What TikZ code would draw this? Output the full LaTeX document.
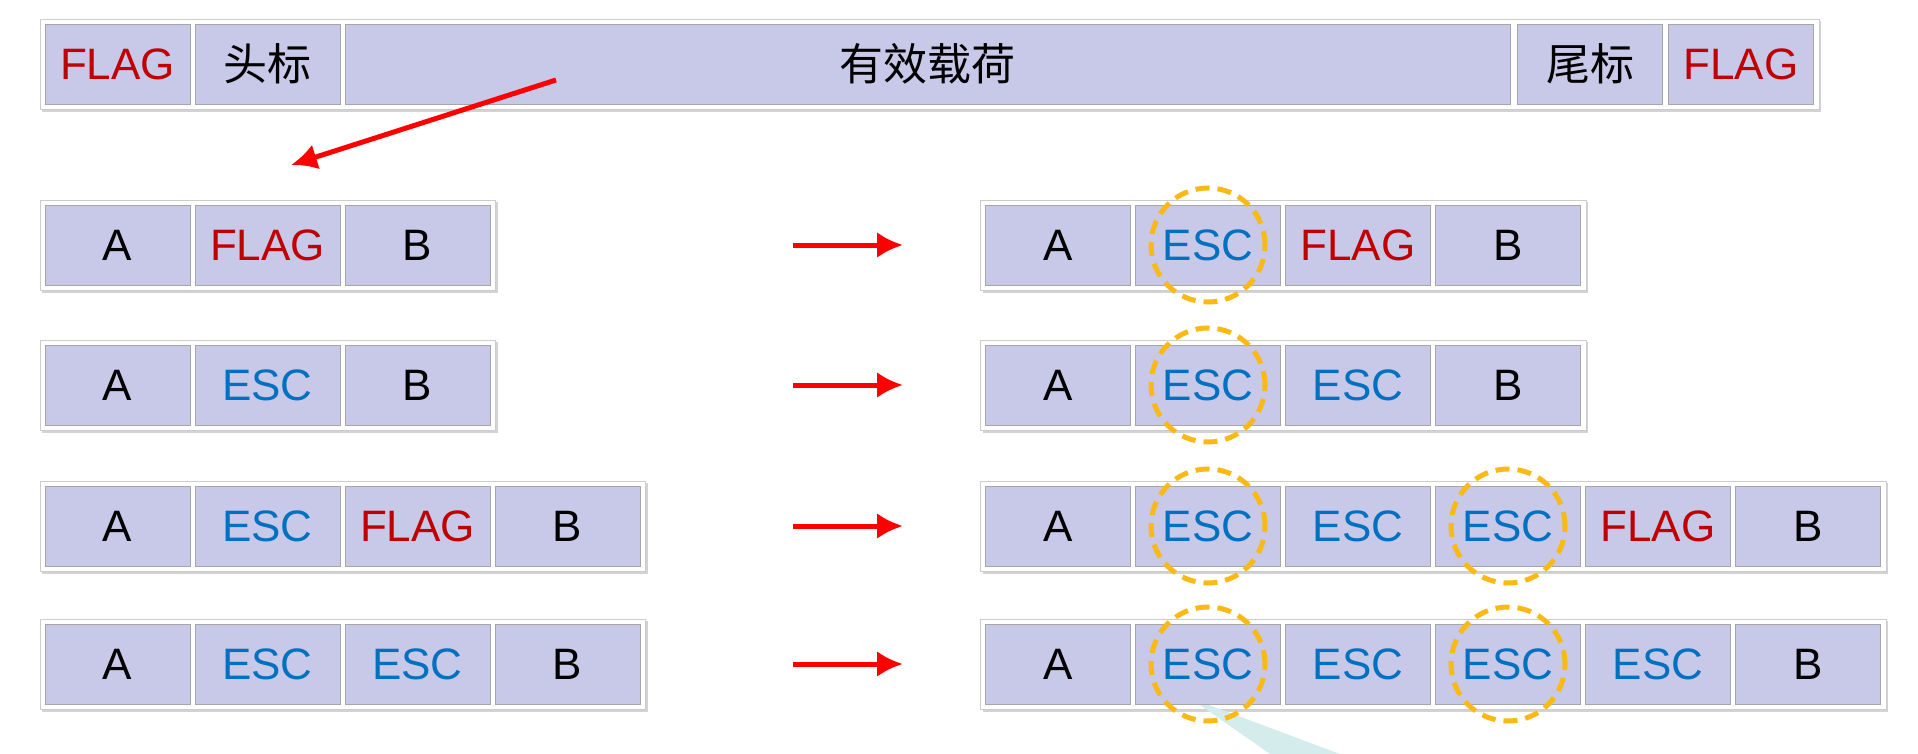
\documentclass[tikz,border=0pt]{standalone}
\usepackage{fontspec}
\setmainfont{Liberation Sans}
\newfontfamily\cjk{Noto Sans CJK SC}
\usetikzlibrary{fit,backgrounds,shadows,arrows.meta}
\definecolor{cellfill}{RGB}{200,200,232}
\definecolor{flagred}{RGB}{192,0,0}
\definecolor{escblue}{RGB}{0,112,192}
\definecolor{ringgold}{RGB}{250,185,20}
\definecolor{tailfill}{RGB}{212,236,236}
\newcommand{\flagtxt}{\textcolor{flagred}{FLAG}}
\newcommand{\esctxt}{\textcolor{escblue}{ESC}}

\begin{document}
\begin{tikzpicture}[
  x=1pt, y=-1pt,
  cell/.style={draw=gray!70, fill=cellfill, minimum width=145pt, minimum height=80pt,
    inner sep=0pt, font=\fontsize{44}{48}\selectfont},
  frame/.style={draw=gray!40, fill=white, inner sep=5pt, drop shadow={opacity=0.35}},
  ring/.style={draw=ringgold, dash pattern=on 14pt off 8pt, line width=5pt,
    circle, minimum size=114pt},
  redarrow/.style={draw=red, line width=5pt, -{Latex[length=26pt,width=26pt]}}
]
\useasboundingbox (0,0) rectangle (1918,754);

% callout tail
\fill [tailfill] (1190,698) -- (1270,754) -- (1340,754) -- cycle;

% header row
\node [cell] (h1) at (117.5,64) {\flagtxt};
\node [cell] (h2) at (267.5,64) {\cjk 头标};
\node [cell, minimum width=1165pt] (h3) at (927.5,64) {\cjk 有效载荷};
\node [cell] (h4) at (1590,64) {\cjk 尾标};
\node [cell] (h5) at (1741,64) {\flagtxt};
\begin{scope}[on background layer]
\node [frame, fit=(h1)(h5)] (hbox) {};
\end{scope}
\coordinate (pick) at (556,80);
\coordinate (drop) at (291,165);
\draw [redarrow] (pick) -- (drop);

% rows before and after stuffing
\foreach \r/\y/\left/\right in {
  1/245/{A,\flagtxt,B}/{A,\esctxt,\flagtxt,B},
  2/385/{A,\esctxt,B}/{A,\esctxt,\esctxt,B},
  3/526/{A,\esctxt,\flagtxt,B}/{A,\esctxt,\esctxt,\esctxt,\flagtxt,B},
  4/664/{A,\esctxt,\esctxt,B}/{A,\esctxt,\esctxt,\esctxt,\esctxt,B}} {
  \foreach \lab [count=\i] in \left
    \node [cell] (l\r-\i) at ({117.5+150*(\i-1)},\y) {\lab};
  \foreach \lab [count=\i] in \right
    \node [cell] (r\r-\i) at ({1058+150*(\i-1)},\y) {\lab};
  \coordinate (from\r) at (793,\y);
  \coordinate (to\r) at (903,\y);
  \draw [redarrow] (from\r) -- (to\r);
}
\begin{scope}[on background layer]
\node [frame, fit=(l1-1)(l1-3)] {};
\node [frame, fit=(l2-1)(l2-3)] {};
\node [frame, fit=(l3-1)(l3-4)] {};
\node [frame, fit=(l4-1)(l4-4)] {};
\node [frame, fit=(r1-1)(r1-4)] {};
\node [frame, fit=(r2-1)(r2-4)] {};
\node [frame, fit=(r3-1)(r3-6)] {};
\node [frame, fit=(r4-1)(r4-6)] {};
\end{scope}

% inserted escapes
\node [ring] at (r1-2) {};
\node [ring] at (r2-2) {};
\node [ring] at (r3-2) {};
\node [ring] at (r3-4) {};
\node [ring] at (r4-2) {};
\node [ring] at (r4-4) {};
\end{tikzpicture}
\end{document}
